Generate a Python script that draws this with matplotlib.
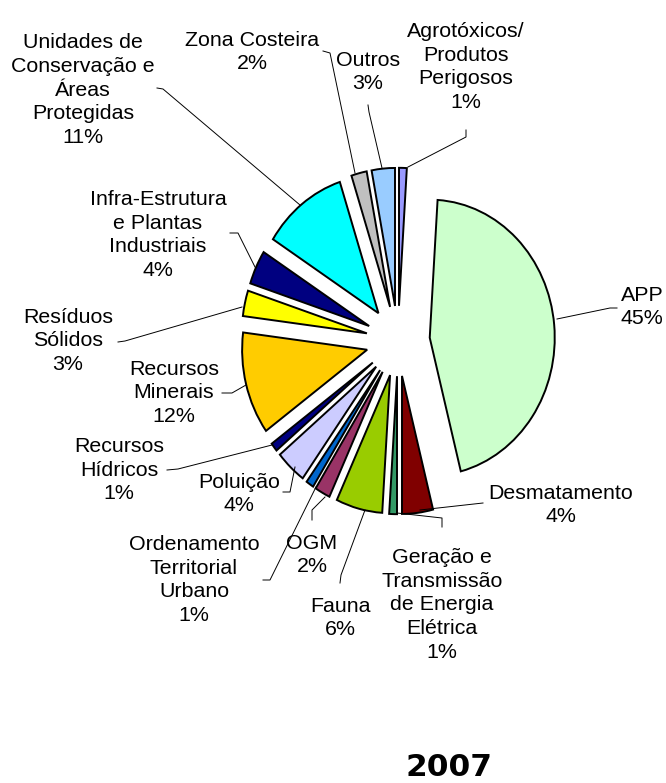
import matplotlib
matplotlib.use('Agg')
import matplotlib.pyplot as plt

# categories, clockwise from 12 o'clock
names = ['Agrotóxicos/\nProdutos\nPerigosos', 'APP', 'Desmatamento',
         'Geração e\nTransmissão\nde Energia\nElétrica', 'Fauna', 'OGM',
         'Ordenamento\nTerritorial\nUrbano', 'Poluição', 'Recursos\nHídricos',
         'Recursos\nMinerais', 'Resíduos\nSólidos',
         'Infra-Estrutura\ne Plantas\nIndustriais',
         'Unidades de\nConservação e\nÁreas\nProtegidas',
         'Zona Costeira', 'Outros']
values = [1, 45, 4, 1, 6, 2, 1, 4, 1, 12, 3, 4, 11, 2, 3]
colors = ['#9999FF', '#CCFFCC', '#800000', '#339966', '#99CC00', '#993366',
          '#0066CC', '#CCCCFF', '#000080', '#FFCC00', '#FFFF00', '#000080',
          '#00FFFF', '#C0C0C0', '#99CCFF']
year = '2007'

# label block centres and leader lines, in image pixels (origin top-left)
label_pos = [(466, 67), (642, 307), (561, 505), (442, 605), (340, 618),
             (312, 555), (194, 580), (239, 494), (119, 470), (174, 393),
             (68, 341), (158, 235), (83, 90), (252, 52), (368, 72)]
leaders = [
    [(466, 130), (466, 137), (408, 167)],
    [(617, 308), (610, 308), (557, 319)],
    [(483, 503), (420, 510)],
    [(442, 527), (442, 518), (397, 513)],
    [(340, 583), (341, 575), (365, 510)],
    [(312, 520), (312, 510), (325, 497)],
    [(263, 580), (270, 580), (316, 487)],
    [(283, 492), (290, 492), (295, 467)],
    [(167, 470), (178, 469), (272, 445)],
    [(222, 393), (232, 393), (246, 385)],
    [(118, 342), (125, 341), (242, 307)],
    [(230, 233), (238, 233), (255, 267)],
    [(157, 88), (163, 89), (300, 205)],
    [(323, 51), (330, 53), (355, 173)],
    [(368, 105), (369, 112), (382, 168)],
]

W, H = 666, 783
CX, CY = 398, 341      # pie centre (px)
RX, RY = 125, 138      # pie is slightly stretched vertically

fig = plt.figure(figsize=(W / 100, H / 100), dpi=100)

# ── pie ───────────────────────────────────────────────────────────────
ax = fig.add_axes([0, 0, 1, 1])
ax.pie(values, colors=colors, startangle=90, counterclock=False,
       explode=[0.255] * len(values), radius=1,
       wedgeprops=dict(edgecolor='black', linewidth=1.4))
ax.set_aspect('auto')
ax.set_xlim(-CX / RX, (W - CX) / RX)
ax.set_ylim(-(H - CY) / RY, CY / RY)
ax.axis('off')

# ── labels (pixel coordinates) ────────────────────────────────────────
lx = fig.add_axes([0, 0, 1, 1], facecolor='none')
lx.set_xlim(0, W)
lx.set_ylim(H, 0)
lx.axis('off')

for name, v, (x, y), pts in zip(names, values, label_pos, leaders):
    lx.text(x, y, f'{name}\n{v}%', ha='center', va='center',
            fontsize=15.4, family='Liberation Sans', linespacing=1.33)
    xs, ys = zip(*pts)
    lx.plot(xs, ys, color='black', linewidth=0.7)

lx.text(449, 776, year, ha='center', va='baseline', fontsize=22.5,
        fontweight='bold', family='DejaVu Sans')

fig.savefig('out.png', dpi=100)
